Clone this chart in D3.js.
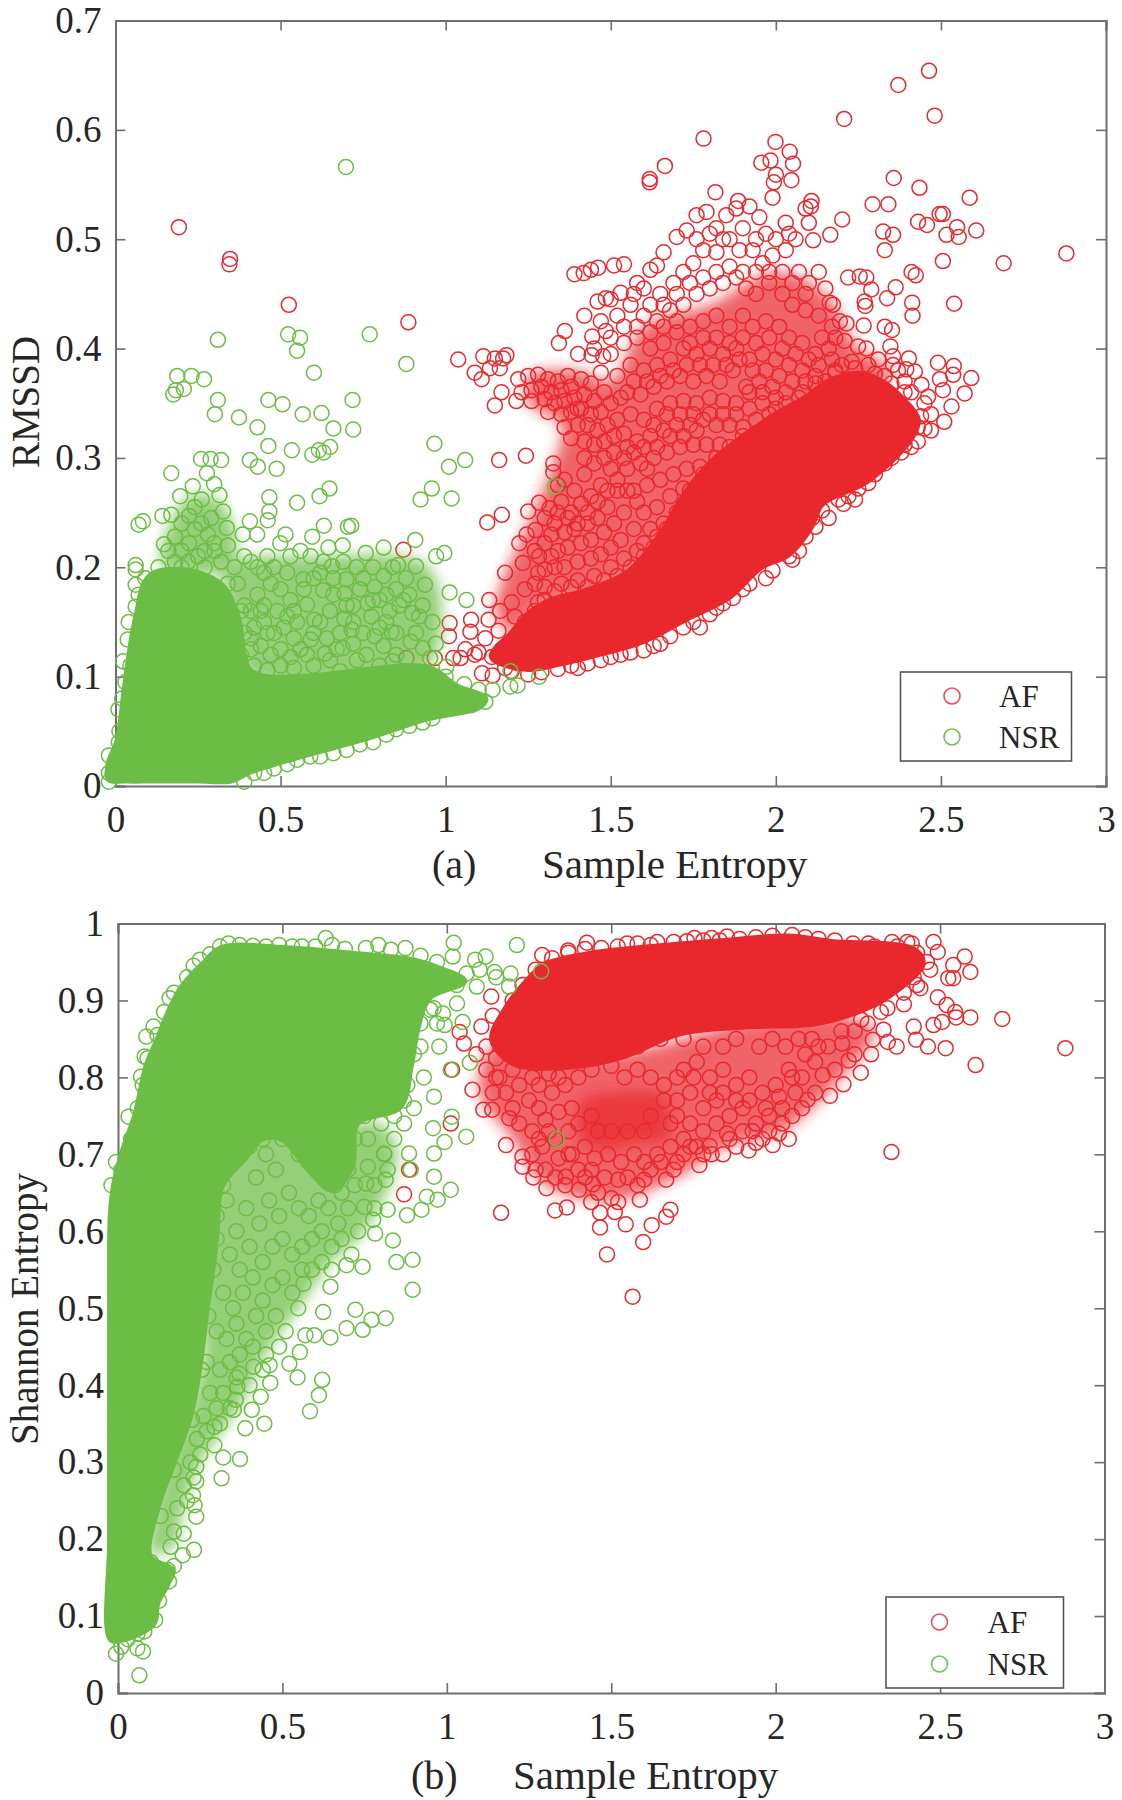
<!DOCTYPE html>
<html><head><meta charset="utf-8"><script src="https://d3js.org/d3.v7.min.js"></script>
<style>html,body{margin:0;background:#fff}svg{display:block}text{font-family:"Liberation Serif",serif;fill:#262626}</style></head>
<body><svg id="c" width="1122" height="1800"><defs><filter id="soft" x="-20%" y="-20%" width="140%" height="140%"><feGaussianBlur stdDeviation="7"/></filter></defs></svg>
<script>
const xTicks=[0,0.5,1,1.5,2,2.5,3];
const yTicksA=[0,0.1,0.2,0.3,0.4,0.5,0.6,0.7];
const yTicksB=[0,0.1,0.2,0.3,0.4,0.5,0.6,0.7,0.8,0.9,1];
const seriesNames=["AF","NSR"];
// Saturated regions, where the overlapping markers merge: outlines read from the picture, not individual markers
const afCoreA=[[1.14,.118],[1.2,.14],[1.25,.157],[1.32,.17],[1.42,.178],[1.55,.195],[1.65,.23],[1.72,.265],[1.8,.295],[1.88,.315],[1.95,.33],[2,.34],[2.09,.355],[2.16,.37],[2.25,.377],[2.32,.37],[2.39,.352],[2.43,.335],[2.41,.318],[2.278,.279],[2.14,.258],[2.105,.236],[2.04,.212],[1.955,.2],[1.855,.172],[1.736,.154],[1.594,.132],[1.455,.12],[1.346,.112],[1.25,.107]];
const nsrCoreA=[[-.02,.006],[-.02,.021],[.007,.042],[.029,.091],[.061,.152],[.104,.192],[.213,.197],[.32,.184],[.37,.155],[.41,.105],[.58,.1],[.731,.105],[.948,.108],[1.034,.091],[1.12,.08],[1.1,.072],[.948,.062],[.753,.043],[.57,.028],[.407,.013],[.35,.005],[.25,.005],[.12,.005],[.03,.005]];
const afCoreB=[[1.177,.888],[1.138,.849],[1.204,.818],[1.376,.814],[1.534,.827],[1.706,.857],[1.905,.866],[2.116,.87],[2.235,.883],[2.341,.905],[2.447,.948],[2.42,.966],[2.169,.976],[2.037,.983],[1.839,.977],[1.64,.97],[1.442,.961],[1.296,.946],[1.243,.925]];
const nsrCoreB=[[-.022,.07],[-.024,.2],[-.024,.35],[-.024,.5],[-.022,.62],[-.012,.66],[.016,.706],[.054,.753],[.086,.814],[.119,.848],[.152,.883],[.195,.918],[.26,.948],[.314,.968],[.51,.968],[.727,.96],[.89,.953],[.988,.94],[1.053,.925],[.945,.903],[.912,.866],[.89,.814],[.858,.762],[.727,.74],[.711,.684],[.651,.654],[.58,.68],[.5,.72],[.434,.72],[.39,.697],[.315,.658],[.3,.6],[.29,.56],[.27,.5],[.25,.43],[.22,.36],[.17,.3],[.12,.24],[.097,.177],[.165,.16],[.151,.142],[.119,.116],[.108,.09],[.01,.069]];
// Crowded regions where markers overlap with small gaps: outlines read from the picture, not individual markers
const afDenseA=[[1.25,.375],[1.4,.38],[1.5,.37],[1.6,.42],[1.8,.44],[2,.47],[2.15,.45],[2.25,.4],[2.35,.38],[2.3,.36],[2.05,.335],[1.85,.3],[1.7,.24],[1.6,.2],[1.45,.175],[1.3,.165],[1.2,.14],[1.15,.16],[1.25,.24],[1.32,.29],[1.35,.33],[1.25,.35]];
const nsrDenseA=[[.33,.2],[.62,.21],[.95,.2],[.95,.11],[.41,.1],[.36,.15]];
const nsrDenseA2=[[.14,.2],[.22,.265],[.32,.26],[.36,.2]];
const afDenseB=[[1.14,.84],[1.1,.78],[1.2,.72],[1.3,.66],[1.5,.64],[1.7,.67],[1.85,.71],[2.02,.73],[2.2,.8],[2.3,.86],[2.2,.88],[1.9,.87],[1.5,.83]];
const afDenseB2=[[1.41,.77],[1.5,.78],[1.66,.775],[1.67,.72],[1.58,.715],[1.47,.705],[1.41,.72]];
const nsrDenseB=[[.24,.51],[.3,.66],[.45,.74],[.6,.75],[.72,.74],[.8,.74],[.85,.7],[.75,.6],[.65,.56],[.55,.5],[.45,.44],[.38,.38],[.3,.33],[.25,.3],[.2,.24],[.17,.19],[.1,.18],[.15,.3],[.2,.35],[.26,.45]];
// Individually visible markers: [Sample Entropy, RMSSD]
const afA=[[.192,.511],[.347,.482],[.345,.477],[.525,.44],[.887,.424],[.872,.216],[.881,.117],[.967,.117],[1.023,.117],[1.045,.117],[1.088,.12],[1.11,.103],[1.142,.101],
[2.464,.654],[2.371,.641],[2.481,.613],[2.207,.61],[1.781,.592],[1.999,.589],[2.042,.58],[1.956,.57],[1.984,.572],[2.052,.569],[1.664,.567],[1.618,.555],[1.618,.552],[2,.559],[1.994,.552],[2.047,.554],[2.357,.556],[2.435,.547],[1.817,.543],[2.587,.538],[2.293,.532],[2.341,.532],[1.99,.538],[1.886,.535],[2.108,.535],[2.106,.53],[2.496,.523],[2.506,.523],[2.201,.518],[2.431,.516],[2.458,.513],[2.549,.511],[2.607,.508],[2.517,.504],[2.554,.502],[2.325,.507],[2.355,.504],[2.33,.49],[2.165,.504],[2.113,.499],[2.88,.487],[2.69,.478],[2.506,.48],[2.411,.47],[2.424,.467],[2.254,.466],[2.219,.465],[2.274,.465],[2.289,.454],[2.54,.441],[2.363,.456],[2.337,.446],[2.413,.442],[2.414,.43],[2.269,.443],[2.271,.439],[2.163,.442],[2.173,.44],[2.194,.425],[2.214,.423],[2.266,.421],[2.33,.42],[2.352,.417],[2.208,.407],[2.249,.402],[2.274,.4],[2.347,.402],[2.355,.393],[2.403,.391],[2.491,.387],[2.539,.384],[2.592,.373],[2.537,.376],[2.497,.372],[2.572,.359],[2.506,.362],[2.532,.347],[2.461,.356],[2.441,.367],[2.421,.379],[2.395,.381],[2.355,.385],[2.31,.39],[2.28,.385],[2.23,.388],[2.47,.34],[2.51,.333],[2.45,.327],[2.43,.315],
[1.038,.39],[1.114,.393],[1.149,.391],[1.184,.394],[1.174,.391],[1.088,.378],[1.109,.372],[1.134,.382],[1.164,.382],[1.169,.36],[1.149,.348],[1.214,.352],[1.361,.416],[1.343,.405],[1.444,.411],[1.418,.469],[1.462,.474],[1.485,.446],[1.485,.416],[1.401,.395],[1.442,.394],[1.477,.393],
[1.22,.372],[1.25,.375],[1.28,.376],[1.31,.372],[1.34,.37],[1.37,.375],[1.23,.36],[1.26,.362],[1.29,.365],[1.32,.36],[1.35,.362],[1.38,.365],[1.41,.372],[1.44,.368],[1.47,.378],[1.26,.352],[1.3,.354],[1.33,.35],[1.36,.352],[1.39,.355],[1.42,.358],[1.45,.352],[1.48,.36],[1.31,.342],[1.35,.34],[1.38,.342],[1.41,.345],[1.44,.34],[1.47,.342],[1.5,.35],[1.36,.328],[1.4,.33],[1.43,.33],[1.46,.325],[1.49,.33],[1.52,.335],[1.38,.318],[1.42,.315],[1.45,.312],[1.48,.315],[1.51,.32],[1.54,.322],
[1.162,.298],[1.243,.302],[1.126,.241],[1.17,.248],[1.25,.251],[1.283,.259],[1.315,.254],[1.223,.222],[1.245,.23],[1.272,.234],[1.18,.195],[1.234,.204],[1.283,.21],[1.326,.295],[1.326,.287],[1.34,.275],[1.36,.28],[1.39,.27],[1.42,.285],[1.35,.26],[1.38,.25],[1.41,.258],[1.44,.265],[1.47,.275],[1.5,.29],[1.33,.24],[1.36,.232],[1.39,.235],[1.43,.24],[1.46,.245],[1.49,.255],[1.52,.27],[1.3,.222],[1.34,.215],[1.37,.218],[1.41,.222],[1.44,.225],[1.48,.232],[1.51,.24],[1.54,.25],[1.3,.198],[1.33,.2],[1.36,.2],[1.4,.205],[1.44,.208],[1.47,.212],[1.5,.218],[1.53,.225],[1.57,.235],[1.24,.18],[1.27,.185],[1.3,.182],[1.35,.185],[1.4,.188],[1.45,.192],[1.5,.2],[1.54,.208],[1.58,.215],
[1.132,.17],[1.077,.152],[1.012,.149],[1.01,.137],[1.075,.141],[1.13,.152],[1.165,.16],[1.2,.168],[1.16,.142],[1.12,.135],[1.06,.125],[1.1,.122],[1.14,.118],[1.18,.108],[1.22,.112],[1.19,.13],[1.23,.14],[1.27,.16],[1.21,.155],[1.3,.17],
[1.39,.468],[1.44,.472],[1.51,.476],[1.54,.477],[1.53,.451],[1.5,.445],[1.46,.443],[1.58,.46],[1.62,.472],[1.64,.476],[1.66,.488],[1.7,.502],[1.73,.508],[1.76,.522],[1.79,.525],[1.82,.51],[1.85,.522],[1.88,.528],[1.92,.53],[1.95,.52],[1.97,.505],[2.03,.515],[2.06,.5],[2.09,.528],[2.1,.515],
[1.6,.455],[1.65,.45],[1.69,.46],[1.72,.47],[1.75,.478],[1.78,.49],[1.82,.488],[1.86,.5],[1.89,.49],[1.93,.49],[1.96,.478],[1.99,.485],[2.03,.49],[2.07,.47],[2.1,.46],[2.13,.47],[2.15,.455],
[1.42,.43],[1.47,.425],[1.52,.43],[1.56,.44],[1.6,.43],[1.64,.425],[1.68,.435],[1.72,.44],[1.76,.45],[1.8,.455],[1.84,.46],[1.88,.465],[1.91,.455],[1.94,.45],[1.98,.46],[2.02,.45],[2.05,.44],[2.09,.435],[2.13,.43],[2.17,.42],
[1.45,.4],[1.5,.395],[1.54,.405],[1.58,.41],[1.62,.4],[1.66,.405],[1.7,.415],[1.74,.42],[1.78,.425],[1.82,.43],[1.86,.42],[1.9,.43],[1.93,.42],[1.97,.425],[2.01,.42],[2.04,.41],[2.08,.405],[2.12,.395],[2.16,.4],[2.2,.385],
[1.52,.375],[1.56,.385],[1.6,.38],[1.64,.385],[1.68,.39],[1.72,.4],[1.76,.395],[1.8,.4],[1.84,.395],[1.88,.4],[1.92,.39],[1.96,.395],[2,.39],[2.04,.385],[2.08,.38],[2.12,.375],[2.15,.37],[2.18,.378],[2.03,.36],[2.07,.355],
[1.55,.36],[1.59,.358],[1.63,.365],[1.67,.37],[1.71,.375],[1.75,.37],[1.79,.375],[1.83,.37],[1.87,.38],[1.91,.365],[1.95,.37],[1.99,.365],[1.56,.34],[1.6,.335],[1.64,.345],[1.68,.35],[1.72,.352],[1.76,.35],[1.8,.355],[1.84,.352],[1.88,.35],[1.92,.345],[1.96,.35],[2,.345],
[1.55,.31],[1.58,.315],[1.62,.32],[1.66,.325],[1.7,.33],[1.74,.33],[1.78,.335],[1.82,.33],[1.86,.33],[1.9,.328],[1.55,.29],[1.59,.295],[1.63,.3],[1.67,.305],[1.71,.31],[1.75,.312],[1.79,.312],[1.83,.312],[1.57,.27],[1.61,.275],[1.65,.28],[1.69,.285],[1.73,.29],[1.77,.292],[1.6,.25],[1.64,.255],[1.68,.265],[1.72,.272],[1.62,.235],[1.66,.24],[1.6,.222],[1.64,.228],
[2.37,.38],[2.33,.375],[2.41,.36],[2.45,.35],[2.39,.37],[2.44,.338],[2.47,.325],[2.41,.31],[2.38,.305],[2.33,.295],[2.3,.285],[2.25,.272],[2.205,.258],[2.24,.262],[2.16,.245],[2.12,.237],[2.05,.207],[2.04,.21],[2.02,.215],[1.65,.13],[1.6,.124],[1.53,.12],[1.47,.115],[1.4,.108],[1.77,.145],[1.82,.163],[1.87,.172],[1.9,.18],[1.97,.19],
[1.2,.105],[1.25,.102],[1.29,.104],[1.34,.107],[1.38,.11],[1.43,.112],[1.5,.118],[1.56,.122],[1.63,.128],[1.68,.137],[1.72,.145],[1.75,.15],[1.8,.157],[1.84,.167],[1.92,.185],[1.99,.197],[2.07,.215],[2.09,.228],[2.11,.245],[2.14,.252],[2.19,.262],[2.22,.265],[2.28,.277],[2.35,.3],[2.39,.312],[2.43,.328],
[1.17,.125],[1.21,.13],[1.24,.15],[1.28,.168],[1.33,.178],[1.38,.182],[1.43,.182],[1.48,.188],[1.52,.192],[1.56,.2],[1.6,.21],[1.63,.218],[1.67,.235],[1.7,.25],[1.74,.27],[1.78,.285],[1.82,.3],[1.86,.31],[1.9,.32],[1.94,.335],[1.98,.34],[2.03,.35],[2.08,.36],[2.12,.368],[2.18,.38],[2.24,.382],[2.3,.377],[2.35,.368],[2.39,.36],
[1.28,.195],[1.32,.21],[1.27,.215],[1.32,.23],[1.3,.245],[1.34,.25],[1.37,.245],[1.4,.24],[1.43,.25],[1.46,.26],[1.49,.27],[1.52,.28],[1.55,.27],[1.58,.26],[1.61,.29],[1.64,.31],[1.68,.32],[1.72,.32],[1.76,.325],[1.8,.34],[1.84,.34],[1.88,.34],[1.92,.36],[1.96,.36],[2,.355],[2.05,.37],[2.09,.37],[2.13,.385],[2.17,.39],[1.42,.3],[1.45,.295],[1.48,.3],[1.51,.305],[1.54,.3],[1.57,.305],[1.6,.31],[1.63,.33],[1.67,.34],[1.71,.34],[1.75,.34],[1.4,.345],[1.53,.355],[1.57,.37],[1.61,.37],[1.65,.375],[1.69,.38],[1.73,.385],[1.77,.385],[1.81,.385],[1.85,.385],[1.89,.39],[1.93,.38],[1.97,.38],[2.01,.375],[1.5,.41],[1.54,.42],[1.58,.42],[1.62,.415],[1.66,.42],[1.7,.425],[1.74,.405],[1.78,.41],[1.82,.41],[1.86,.405],[1.9,.41],[1.94,.405],[1.98,.41],[2.02,.4],[2.06,.395],[2.1,.39],[2.14,.41],[2.18,.41],[1.57,.45],[1.62,.44],[1.66,.44],[1.7,.45],[1.74,.46],[1.78,.465],[1.82,.47],[1.86,.475],[1.9,.47],[1.94,.47],[1.98,.47],[2.02,.47],[2.05,.46],[2.09,.45],[1.76,.5],[1.8,.505],[1.84,.5],[1.9,.51],[1.94,.5],[2,.5],[2.04,.505]];
const nsrA=[[.698,.566],[.31,.408],[.523,.413],[.559,.41],[.55,.398],[.77,.413],[.881,.386],[.601,.378],[.187,.375],[.23,.375],[.268,.372],[.207,.363],[.183,.362],[.175,.358],[.31,.353],[.463,.353],[.506,.349],[.718,.353],[.567,.34],[.624,.341],[.301,.34],[.374,.337],[.43,.328],[.66,.327],[.72,.326],[.63,.305],[.65,.31],
[.169,.286],[.259,.299],[.288,.299],[.32,.298],[.277,.286],[.407,.298],[.431,.292],[.488,.29],[.463,.311],[.534,.307],[.596,.303],[.616,.307],[.966,.313],[1.059,.298],[1.01,.292],[.958,.272],[.924,.262],[1.018,.263],[.466,.264],[.55,.259],[.618,.265],[.648,.272],[.299,.276],[.234,.274],[.196,.265],[.315,.266],[.261,.262],[.326,.251],[.223,.247],[.142,.247],[.169,.248],[.083,.242],[.07,.239],[.466,.251],[.461,.243],[.407,.242],[.631,.238],[.704,.237],[.714,.238],[.596,.228],[.337,.236],[.385,.23],[.429,.23],[.515,.23],[.499,.222],[.18,.228],[.299,.222],[.223,.222],[.147,.221],[.908,.225],[.996,.213],[.971,.21],[.812,.218],[.758,.213],[.688,.22],[.645,.218],[.061,.202],[.061,.198],[.061,.184],[.061,.164],[.037,.134],[.023,.114],[1.012,.177],[1.063,.17],[.937,.184],[.91,.201],[.856,.202],[.92,.155],[.899,.158],[.91,.14],[.894,.132],[.836,.141],[.931,.126],[.785,.182],[.812,.192],[.872,.17],[.775,.155],[.693,.153],[.715,.143],[.785,.137],[.812,.128],[.764,.167],[.699,.189],[.694,.176],[.656,.201],[.591,.21],[.569,.189],[.629,.179],[.58,.166],[.602,.152],[.591,.134],[.688,.126],[.634,.121],[.731,.115],[.84,.114],[.953,.117],[1.002,.109],
[.24,.255],[.26,.24],[.29,.245],[.2,.24],[.24,.235],[.28,.23],[.2,.215],[.25,.21],[.32,.205],[.36,.2],[.34,.22],[.37,.185],[.41,.205],[.45,.195],[.48,.2],[.52,.195],[.43,.175],[.47,.185],[.5,.18],[.41,.16],[.45,.165],[.49,.16],[.53,.17],[.55,.15],[.39,.14],[.42,.145],[.45,.15],[.48,.14],[.51,.145],[.54,.135],[.38,.12],[.41,.125],[.44,.128],[.47,.12],[.5,.125],[.53,.118],[.56,.125],[.42,.11],[.46,.106],[.5,.11],[.54,.108],[.6,.11],[.65,.115],[.68,.105],[.72,.13],[.76,.12],[.8,.11],[.85,.12],[.88,.105],[.62,.195],[.66,.19],[.73,.2],[.75,.19],[.8,.17],[.83,.16],[.85,.18],[.88,.19],[.78,.2],[.72,.165],[.65,.16],[.68,.14],[.6,.14],[.64,.135],[.75,.14],[.82,.15],[.63,.205],[.69,.205],
[1.142,.088],[1.196,.091],[1.218,.092],[1.196,.105],[1.283,.1],[1.077,.074],[1.12,.077],[1.056,.093],[1.331,.274],[1.02,.085],[.99,.07],[.93,.058],[.85,.052],[.78,.04],[.7,.033],[.62,.027],[.52,.02],[.45,.012],[.39,.004],[.009,.07],[.012,.05],[1.0,.1],[1.1,.088],[.06,.12],[.03,.095],
[.42,.012],[.48,.016],[.55,.024],[.59,.027],[.66,.03],[.74,.038],[.82,.047],[.89,.055],[.96,.062],[1.04,.072],[1.08,.077],[.04,.15],[.07,.175],[.09,.19],[.13,.2],[.18,.205],[.22,.205],[.27,.2],[.34,.185],[.38,.16],[.41,.135],[.045,.11],[.02,.08],[.01,.04],[-.02,.028],[-.02,.012],[-.02,.004],[.2,.2],[.3,.215],[.27,.215],[.16,.215],[.39,.21],[.43,.2],[.46,.21],[.53,.21],[.56,.215],[.6,.19],[.66,.175],[.7,.165],[.74,.18],[.78,.17],[.82,.175],[.84,.2],[.86,.165],[.89,.175],[.93,.165],[.96,.15],[.97,.13],[.85,.14],[.8,.145],[.72,.15],[.67,.125],[.58,.12],[.62,.15],[.57,.18],[.54,.16],[.52,.155],[.46,.14],[.44,.16],[.39,.165],[.36,.14]];
// [Sample Entropy, Shannon Entropy]
const afB=[[.87,.648],[.885,.68],[2.881,.838],[2.689,.876],[2.608,.816],[2.352,.703],[1.565,.515],[1.487,.57],[1.597,.586],[1.623,.608],[1.667,.619],[1.68,.628],[1.466,.605],[1.544,.609],[1.165,.624],[1.329,.627],[1.365,.631],[1.466,.624],[1.511,.625],[1.439,.638],[1.501,.643],[1.587,.641],[1.521,.638],[1.303,.656],[1.263,.67],[1.402,.654],[1.444,.661],[1.521,.667],[1.6,.667],[1.667,.667],[1.23,.684],[1.23,.697],[1.18,.712],[1.362,.671],[1.805,.7],[1.768,.686],[1.7,.69],[1.918,.705],[1.991,.712],[1.799,.711],[1.852,.727],[2.01,.727],[2.097,.771],[2.165,.776],[2.206,.791],[2.259,.806],[2.143,.803],[2.222,.822],[2.202,.844],[2.328,.862],[2.341,.846],[2.368,.84],[2.295,.849],[2.517,.838],[2.463,.84],[2.427,.849],[2.42,.866],[2.48,.868],[2.506,.872],[2.549,.878],[2.592,.878],[2.493,.904],[2.52,.894],[2.546,.885],[2.592,.937],[2.54,.929],[2.525,.929],[2.575,.957],[2.54,.946],[2.48,.976],[2.493,.963],[2.414,.974],[2.4,.976],[2.354,.976],[2.282,.974],[2.235,.974],[2.05,.985],[1.852,.983],[1.805,.981],[1.753,.981],[1.64,.976],[1.548,.974],[1.426,.975],[1.369,.965],[1.29,.959],[2.44,.916],[1.135,.905],[1.105,.866],[1.052,.844],[1.039,.859],[1.078,.784],[1.111,.758],[1.138,.758],[1.19,.747],[1.016,.81],[1.012,.74],
[1.09,.83],[1.12,.81],[1.15,.8],[1.18,.78],[1.22,.79],[1.25,.77],[1.28,.76],[1.32,.78],[1.36,.79],[1.4,.8],[1.22,.74],[1.26,.73],[1.3,.745],[1.34,.755],[1.38,.76],[1.26,.7],[1.29,.71],[1.33,.72],[1.37,.73],[1.3,.68],[1.34,.695],[1.38,.7],[1.42,.71],[1.45,.695],[1.49,.7],[1.53,.69],[1.57,.7],[1.6,.69],[1.64,.7],[1.68,.71],[1.72,.72],[1.4,.68],[1.44,.68],[1.48,.67],[1.55,.67],[1.62,.68],
[1.54,.8],[1.58,.81],[1.62,.8],[1.66,.79],[1.7,.77],[1.74,.78],[1.78,.76],[1.82,.77],[1.86,.75],[1.9,.76],[1.94,.74],[1.98,.75],[2.02,.76],[2.06,.78],[1.72,.81],[1.76,.82],[1.8,.8],[1.84,.81],[1.88,.79],[1.92,.8],[1.96,.78],[2,.79],[2.04,.81],[2.08,.8],[2.12,.82],[2.16,.84],[2.2,.86],[1.7,.75],[1.74,.74],[1.78,.73],[1.82,.74],[1.86,.72],[1.9,.73],[1.94,.715],[1.98,.73],[2.02,.74],[2.05,.75],[1.95,.84],[1.99,.85],[2.03,.84],[2.07,.85],[2.11,.85],[1.84,.84],[1.88,.85],[1.78,.84],[2.24,.86],[2.28,.87],[2.34,.89],[2.39,.91],[2.42,.93],[1.62,.75],[1.68,.74],[1.72,.7],[1.76,.71],
[1.2,.9],[1.23,.92],[1.27,.94],[1.32,.955],[1.37,.962],[1.42,.967],[1.47,.968],[1.52,.97],[1.58,.974],[1.62,.972],[1.69,.976],[1.73,.977],[1.78,.978],[1.83,.978],[1.89,.98],[1.94,.982],[1.99,.984],[2.09,.982],[2.13,.98],[2.18,.978],[2.3,.97],[2.37,.97],[2.43,.962],[2.46,.95],[2.47,.94],[2.43,.92],[2.39,.895],[2.32,.885],[2.26,.875],[1.17,.86],[1.14,.88],[1.12,.84],[1.15,.825],[1.2,.81],[1.26,.8],[1.31,.805],[1.44,.81],[1.5,.815],[1.58,.84],[1.65,.85],[1.72,.85],[1.14,.78],[1.2,.76],[1.16,.8],[1.28,.79],[1.34,.8],[1.31,.73],[1.37,.7],[1.4,.74],[1.44,.75],[1.46,.73],[1.5,.73],[1.55,.73],[1.6,.73],[1.66,.77],[1.7,.8],[1.75,.8],[1.8,.78],[1.84,.78],[1.88,.77],[1.92,.77],[1.97,.76],[2.01,.775],[2.05,.8],[2.09,.83],[2.13,.84],[1.28,.72],[1.27,.68],[1.33,.67],[1.36,.66],[1.42,.67],[1.46,.65],[1.58,.66],[1.65,.69],[1.69,.68],[1.74,.71],[1.78,.7],[1.84,.7],[1.88,.71],[1.93,.73],[1.96,.72],[2.04,.72],[2.08,.76],[2.12,.78],[2.18,.81],[2.24,.83],[2.29,.83]];
const nsrB=[[1.021,.975],[1.213,.972],[1.018,.957],[1.086,.953],[1.118,.957],[1.145,.937],[1.194,.935],[1.287,.938],[1.189,.918],[1.091,.918],[1.031,.896],[.988,.883],[1.048,.872],[.993,.868],[.95,.888],[.977,.84],[1.07,.819],[1.012,.81],[.961,.775],[1.015,.749],[1.059,.723],[.993,.716],[.958,.734],[.961,.701],[.961,.671],[1.012,.654],[.972,.641],[.939,.645],[.923,.628],[.879,.621],[.836,.588],[.896,.563],[.847,.56],[.896,.524],[.744,.554],[.695,.556],[.646,.528],[.624,.495],[.814,.487],[.771,.485],[.722,.498],[.744,.472],[.695,.474],[.646,.462],[.597,.465],[.57,.465],[.548,.5],[.564,.532],[.782,.597],[.776,.615],[.82,.628],[.749,.632],[.89,.68],[.885,.701],[.809,.701],[.76,.684],[.814,.667],[.754,.662],[.032,.749],[-.006,.69],[.108,.866],[.086,.853],[.081,.827],[.07,.801],[.157,.903],[.249,.953],[.336,.974],[.45,.97],[.559,.97],[.632,.981],[.651,.972],[.754,.968],[.792,.972],[.874,.968],[1.334,.72],
[.065,.023],[-.006,.051],[.076,.054],[.059,.058],[.059,.077],[.315,.279],[.371,.304],[.32,.306],[.231,.186],[.197,.179],[.2,.207],[.238,.229],[.233,.244],[.228,.257],[.293,.346],[.445,.35],[.387,.344],[.407,.368],[.434,.385],[.584,.366],[.611,.387],[.621,.407],[.546,.41],[.463,.403],[.363,.398],[.358,.381],[.352,.368],[.293,.322],[.238,.294],[.238,.275],[.151,.16],[.412,.424],[.461,.426],[.521,.428],[.553,.443],[.369,.415],
[.3,.62],[.33,.64],[.36,.6],[.39,.63],[.42,.67],[.45,.7],[.48,.68],[.34,.57],[.37,.55],[.4,.58],[.43,.61],[.46,.64],[.49,.62],[.52,.65],[.55,.63],[.58,.62],[.61,.64],[.64,.63],[.67,.61],[.7,.63],[.73,.6],[.44,.56],[.47,.58],[.5,.59],[.53,.57],[.56,.58],[.59,.59],[.62,.6],[.65,.58],[.68,.59],[.71,.57],[.32,.52],[.35,.5],[.38,.52],[.41,.54],[.44,.51],[.47,.53],[.5,.54],[.53,.52],[.56,.55],[.59,.55],[.62,.56],[.65,.55],[.3,.47],[.33,.46],[.36,.48],[.39,.46],[.42,.49],[.45,.47],[.48,.49],[.51,.47],[.27,.43],[.31,.42],[.34,.43],[.37,.44],[.41,.45],[.45,.44],[.49,.45],[.28,.39],[.32,.39],[.36,.41],[.4,.4],[.44,.42],[.26,.36],[.3,.37],[.34,.37],[.24,.33],[.27,.34],[.31,.35],[.22,.3],[.25,.31],[.2,.27],[.23,.28],[.18,.24],[.21,.25],[.17,.21],[.16,.19],[.78,.66],[.82,.68],[.84,.72],[.8,.74],[.76,.72],[.9,.76],[.93,.8],[.87,.74],[.92,.84],[.97,.87],
[-.02,.66],[.01,.68],[.04,.72],[.06,.76],[.075,.79],[.09,.825],[.12,.855],[.14,.885],[.17,.91],[.21,.93],[.23,.945],[.28,.96],[.31,.97],[.37,.972],[.41,.971],[.49,.972],[.53,.97],[.6,.97],[.69,.967],[.83,.966],[.92,.958],[.97,.95],[1.06,.935],[1.1,.94],[1.15,.93],[1.03,.92],[.96,.89],[.92,.87],[.9,.83],[.88,.79],[.87,.77],[.84,.75],[.75,.75],[.72,.72],[.7,.68],[.66,.66],[.1,.17],[.17,.165],[.155,.145],[.125,.12],[.113,.095],[.08,.08],[.03,.07],[.01,.06],[.13,.23],[.17,.29],[.225,.355],[.255,.42],[.275,.49],[.29,.55],[.3,.59],[.32,.66],[.4,.71],[.44,.72],[.5,.72],[.55,.7],[.61,.7],[.66,.7],[.58,.69],[.63,.67],[.68,.65],[.72,.66],[.78,.63],[.81,.7]];

const RED="#e9282e", GREEN="#6cbd45";
const svg=d3.select("#c");
function panel(o){
  const x=d3.scaleLinear().domain([0,3]).range([o.l,o.r]);
  const y=d3.scaleLinear().domain([0,o.yMax]).range([o.b,o.t]);
  const line=d3.line().x(d=>x(d[0])).y(d=>y(d[1])).curve(d3.curveCatmullRomClosed.alpha(.5));
  const axisColor="#6e6e6e";
  const g=svg.append("g");
  const fmt=d=>String(d);
  g.append("g").attr("transform",`translate(0,${o.b})`).call(d3.axisBottom(x).tickValues(xTicks).tickFormat(fmt).tickSize(-10).tickPadding(20));
  g.append("g").attr("transform",`translate(${o.l},0)`).call(d3.axisLeft(y).tickValues(o.yTicks).tickFormat(fmt).tickSize(-10).tickPadding(14));
  g.append("g").attr("transform",`translate(0,${o.t})`).call(d3.axisTop(x).tickValues(xTicks).tickFormat("").tickSize(-10));
  g.append("g").attr("transform",`translate(${o.r},0)`).call(d3.axisRight(y).tickValues(o.yTicks).tickFormat("").tickSize(-10));
  g.selectAll(".domain").attr("stroke",axisColor).attr("stroke-width",2);
  g.selectAll(".tick line").attr("stroke",axisColor).attr("stroke-width",1.6);
  g.selectAll(".tick text").attr("font-size",37).attr("font-family",'"Liberation Serif",serif').attr("fill","#262626");
  const draw=(dense,core,pts,col)=>{
    dense.forEach(c=>g.append("path").attr("d",line(c)).attr("fill",col).attr("fill-opacity",.72).attr("filter","url(#soft)"));
    core.forEach(c=>g.append("path").attr("d",line(c)).attr("fill",col).attr("stroke",col).attr("stroke-width",6).attr("stroke-linejoin","round"));
    g.append("g").selectAll("circle").data(pts).join("circle").attr("cx",d=>x(d[0])).attr("cy",d=>y(d[1])).attr("r",7.5).attr("fill","none").attr("stroke",col).attr("stroke-width",1.5);
  };
  draw(o.afDense,o.afCore,o.af,RED);
  draw(o.nsrDense,o.nsrCore,o.nsr,GREEN);
  const lg=g.append("g");
  lg.append("rect").attr("x",o.leg[0]).attr("y",o.leg[1]).attr("width",o.leg[2]).attr("height",o.leg[3]).attr("fill","#fff").attr("stroke","#555").attr("stroke-width",1.6);
  seriesNames.forEach((n,i)=>{
    lg.append("circle").attr("cx",o.legM).attr("cy",o.legY[i]).attr("r",8).attr("fill","none").attr("stroke",i?"#6fc553":"#e9505c").attr("stroke-width",1.6);
    lg.append("text").attr("x",o.legT).attr("y",o.legY[i]+11).attr("font-size",31).text(n);
  });
  g.append("text").attr("transform",`translate(${o.yl[0]},${o.yl[1]}) rotate(-90)`).attr("text-anchor","middle").attr("font-size",39).text(o.yLabel);
  g.append("text").attr("x",o.cap[0]).attr("y",o.cap[1]).attr("font-size",40).text(o.capText);
  g.append("text").attr("x",o.xl[0]).attr("y",o.xl[1]).attr("font-size",41).text("Sample Entropy");
}
panel({l:115.5,r:1106,t:20.5,b:786,yMax:.7,yTicks:yTicksA,af:afA,nsr:nsrA,afCore:[afCoreA],nsrCore:[nsrCoreA],afDense:[afDenseA],nsrDense:[nsrDenseA,nsrDenseA2],
  leg:[900.5,672,171,89],legM:952,legY:[696,737],legT:999,yl:[39,402],yLabel:"RMSSD",cap:[432,878],capText:"(a)",xl:[542,878]});
panel({l:118,r:1104.5,t:923.5,b:1693,yMax:1,yTicks:yTicksB,af:afB,nsr:nsrB,afCore:[afCoreB],nsrCore:[nsrCoreB],afDense:[afDenseB,afDenseB2],nsrDense:[nsrDenseB],
  leg:[886,1597,177.5,91],legM:939.5,legY:[1622,1664],legT:987.5,yl:[38,1309],yLabel:"Shannon Entropy",cap:[411,1789],capText:"(b)",xl:[513,1789]});
</script></body></html>
